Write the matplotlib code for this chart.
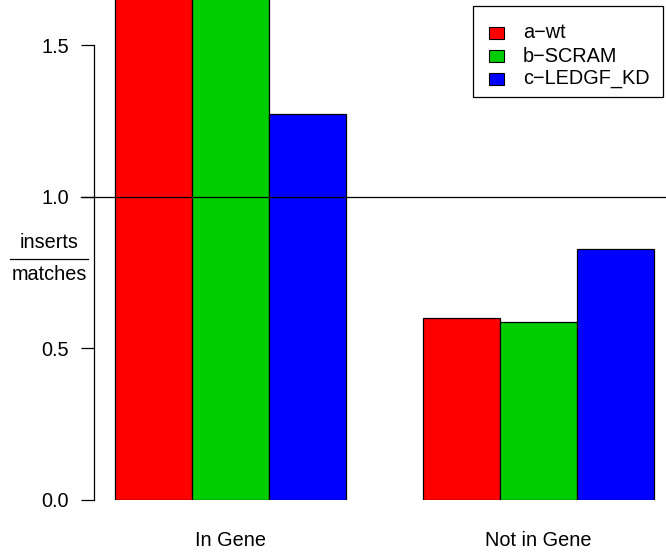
import matplotlib
matplotlib.use("Agg")
import matplotlib.pyplot as plt
from matplotlib.patches import Rectangle
from matplotlib.lines import Line2D

plt.rcParams['font.family'] = ['Liberation Sans', 'DejaVu Sans']

categories = ["In Gene", "Not in Gene"]
series = ["a\u2212wt", "b\u2212SCRAM", "c\u2212LEDGF_KD"]
colors = ["#FF0000", "#00CD00", "#0000FF"]
values = {
    "a\u2212wt": [1.80, 0.598],
    "b\u2212SCRAM": [1.78, 0.585],
    "c\u2212LEDGF_KD": [1.275, 0.826],
}
yticks = [0.0, 0.5, 1.0, 1.5]
ytick_labels = ["0.0", "0.5", "1.0", "1.5"]

FS = 14.3
W, H = 666, 555
fig = plt.figure(figsize=(W / 100, H / 100), dpi=100)
left, right, bottom_px, top_px = 94, 666, 499.5, 0
ax = fig.add_axes([left / W, (H - bottom_px) / H, (right - left) / W, (bottom_px - top_px) / H])

XMIN, XMAX = 0.727, 8.156
nser = len(series)
for gi, cat in enumerate(categories):
    start = 1 + gi * (nser + 1)
    for si, s in enumerate(series):
        ax.bar(start + si, values[s][gi], width=1.0, align='edge',
               color=colors[si], edgecolor='black', linewidth=0.9, zorder=2)

ax.set_xlim(XMIN, XMAX)
ax.set_ylim(0, 1.65)

for sp in ['top', 'right', 'bottom']:
    ax.spines[sp].set_visible(False)
ax.spines['left'].set_bounds(0, 1.5)
ax.spines['left'].set_linewidth(0.9)
ax.set_yticks(yticks)
ax.set_yticklabels(ytick_labels)
ax.tick_params(axis='y', length=13 * 0.72, width=0.9, pad=12 * 0.72, labelsize=FS, colors='black')
ax.set_xticks([])

# horizontal reference line at 1.0
ax.plot([-13 / (right - left), 1], [1.0, 1.0], color='black', linewidth=0.9,
        transform=ax.get_yaxis_transform(), clip_on=False, zorder=3)

# category labels
for gi, cat in enumerate(categories):
    start = 1 + gi * (nser + 1)
    xc = (start + nser / 2 - XMIN) / (XMAX - XMIN) * (right - left) + left
    fig.text(xc / W, 1 - 540 / H, cat, ha='center', va='center', fontsize=FS)

# y label as fraction
fig.text(49 / W, 1 - 242 / H, "inserts", ha='center', va='center', fontsize=FS)
fig.text(49 / W, 1 - 275 / H, "matches", ha='center', va='center', fontsize=FS)
fig.add_artist(Line2D([10 / W, 88 / W], [1 - 259 / H, 1 - 259 / H], color='black', linewidth=0.9))

# legend (drawn in figure pixel coordinates)
def fx(px):
    return px / W

def fy(py):
    return 1 - py / H

fig.add_artist(Rectangle((fx(473), fy(97)), (663 - 473) / W, (97 - 6) / H,
                         facecolor='white', edgecolor='black', linewidth=0.9,
                         transform=fig.transFigure))
rows = [33, 56, 79]
for c, lab, ry in zip(colors, series, rows):
    fig.add_artist(Rectangle((fx(489), fy(ry + 6)), 15 / W, 12 / H,
                             facecolor=c, edgecolor='black', linewidth=0.8,
                             transform=fig.transFigure))
    fig.text(fx(523), fy(ry), lab, ha='left', va='center', fontsize=FS)

fig.savefig("out.png", dpi=100)
